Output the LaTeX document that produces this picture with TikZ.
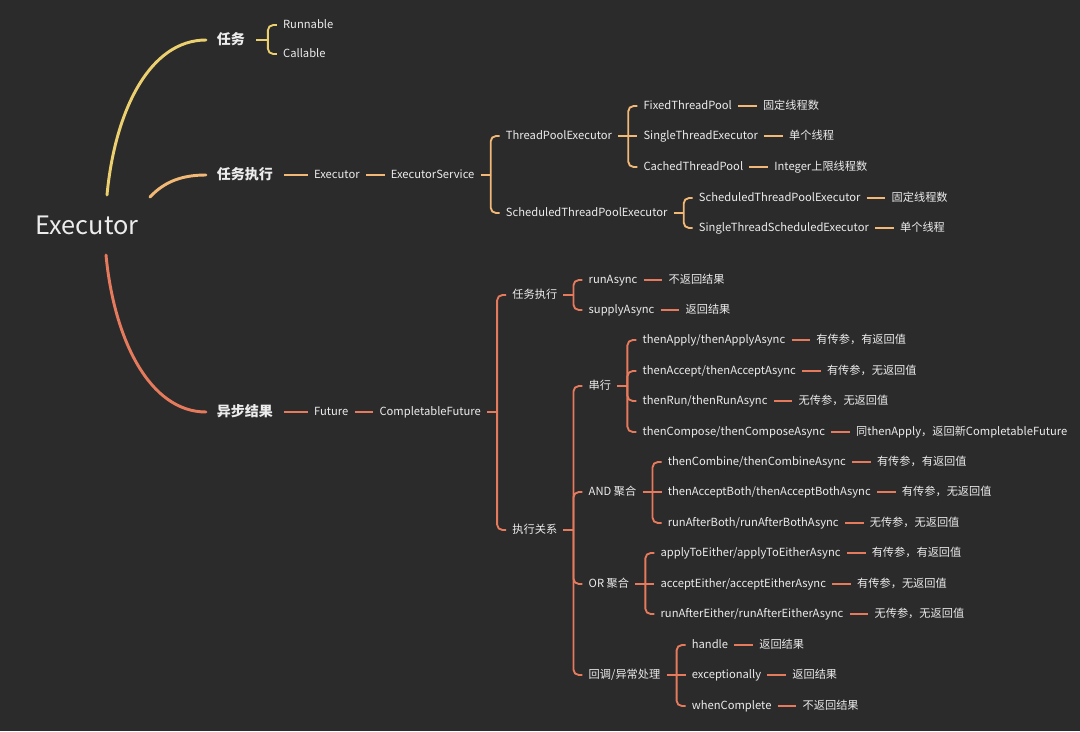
\documentclass[tikz,border=0pt]{standalone}
\usepackage{fontspec}
\setmainfont{Noto Sans CJK SC}
\usepackage{tikz}
\usetikzlibrary{positioning, calc}

\definecolor{bgdark}{RGB}{43,43,43}
\definecolor{txtlight}{RGB}{236,236,236}
\definecolor{mapyellow}{RGB}{236,208,112}
\definecolor{maporange}{RGB}{241,184,118}
\definecolor{mapcoral}{RGB}{229,122,92}

\begin{document}
\begin{tikzpicture}[x=0.75pt, y=-0.75pt, node distance=14pt,
    every node/.style={text=txtlight, inner ysep=0pt, inner xsep=4.5pt, text height=7.5pt, text depth=1.9pt, font=\fontsize{8.4}{10}\selectfont},
    topic/.style={font=\fontsize{10.5}{12}\selectfont\bfseries, inner xsep=8pt, text height=9pt, text depth=2.5pt},
    trunk/.style={line width=2.2pt, line cap=round},
    twig/.style={line width=1.4pt, rounded corners=4pt}]
    \fill[bgdark, use as bounding box] (0,0) rectangle (1080,731);

    % root
    \node[font=\fontsize{19}{22}\selectfont, text height=12.5pt, text depth=0pt] (exec) at (87,226) {Executor};
    \coordinate (execN) at ($(exec.center)+(20,-31)$);
    \coordinate (execNE) at ($(exec.center)+(63,-29)$);
    \coordinate (execS) at ($(exec.center)+(19,29)$);

    % 任务
    \node[topic, anchor=west] (task) at (206,40) {任务};
    \coordinate[right=9pt of task] (taskB);
    \node[anchor=west] (runnable) at ($(taskB)+(9,-15)$) {Runnable};
    \node[anchor=west] (callable) at ($(taskB)+(9,14)$) {Callable};

    \draw[trunk, mapyellow] (execN) .. controls (115,110) and (150,40) .. (task.west);
    \draw[twig, mapyellow] (task) -- (taskB);
    \draw[twig, mapyellow] (taskB) |- (runnable);
    \draw[twig, mapyellow] (taskB) |- (callable);

    % 任务执行
    \node[topic, anchor=west] (run) at (206,175) {任务执行};
    \node[right=18pt of run] (executor) {Executor};
    \node[right=of executor] (service) {ExecutorService};
    \coordinate[right=7.5pt of service] (serviceB);
    \node[anchor=west] (tpe) at ($(serviceB)+(9,-39)$) {ThreadPoolExecutor};
    \node[anchor=west] (stpe) at ($(serviceB)+(9,38)$) {ScheduledThreadPoolExecutor};

    \coordinate[right=7.5pt of tpe] (tpeB);
    \node[anchor=west] (fixed) at ($(tpeB)+(9,-30)$) {FixedThreadPool};
    \node[anchor=west] (single) at ($(tpeB)+(9,0)$) {SingleThreadExecutor};
    \node[anchor=west] (cached) at ($(tpeB)+(9,31)$) {CachedThreadPool};
    \node[right=of fixed] (fixedN) {固定线程数};
    \node[right=of single] (singleN) {单个线程};
    \node[right=of cached] (cachedN) {Integer上限线程数};

    \coordinate[right=7.5pt of stpe] (stpeB);
    \node[anchor=west] (sched) at ($(stpeB)+(9,-15)$) {ScheduledThreadPoolExecutor};
    \node[anchor=west] (singleSched) at ($(stpeB)+(9,15)$) {SingleThreadScheduledExecutor};
    \node[right=of sched] (schedN) {固定线程数};
    \node[right=of singleSched] (singleSchedN) {单个线程};

    \draw[trunk, maporange] (execNE) .. controls (165,181) and (183,175) .. (run.west);
    \draw[twig, maporange] (run) -- (executor);
    \draw[twig, maporange] (executor) -- (service);
    \draw[twig, maporange] (service) -- (serviceB);
    \draw[twig, maporange] (serviceB) |- (tpe);
    \draw[twig, maporange] (serviceB) |- (stpe);
    \draw[twig, maporange] (tpe) -- (tpeB);
    \draw[twig, maporange] (tpeB) |- (fixed);
    \draw[twig, maporange] (tpeB) -- (single);
    \draw[twig, maporange] (tpeB) |- (cached);
    \draw[twig, maporange] (fixed) -- (fixedN);
    \draw[twig, maporange] (single) -- (singleN);
    \draw[twig, maporange] (cached) -- (cachedN);
    \draw[twig, maporange] (stpe) -- (stpeB);
    \draw[twig, maporange] (stpeB) |- (sched);
    \draw[twig, maporange] (stpeB) |- (singleSched);
    \draw[twig, maporange] (sched) -- (schedN);
    \draw[twig, maporange] (singleSched) -- (singleSchedN);

    % 异步结果
    \node[topic, anchor=west] (async) at (206,412) {异步结果};
    \node[right=18pt of async] (future) {Future};
    \node[right=of future] (cf) {CompletableFuture};
    \coordinate[right=7.5pt of cf] (cfB);
    \node[anchor=west] (submit) at ($(cfB)+(9,-117)$) {任务执行};
    \node[anchor=west] (relation) at ($(cfB)+(9,118)$) {执行关系};

    \coordinate[right=7.5pt of submit] (submitB);
    \node[anchor=west] (runAsync) at ($(submitB)+(9,-15)$) {runAsync};
    \node[anchor=west] (supplyAsync) at ($(submitB)+(9,15)$) {supplyAsync};
    \node[right=of runAsync] (runAsyncN) {不返回结果};
    \node[right=of supplyAsync] (supplyAsyncN) {返回结果};

    \coordinate[right=7.5pt of relation] (relationB);
    \node[anchor=west] (serial) at ($(relationB)+(9,-144)$) {串行};
    \node[anchor=west] (andJoin) at ($(relationB)+(9,-38)$) {AND 聚合};
    \node[anchor=west] (orJoin) at ($(relationB)+(9,54)$) {OR 聚合};
    \node[anchor=west] (callback) at ($(relationB)+(9,145)$) {回调/异常处理};

    \coordinate[right=7.5pt of serial] (serialB);
    \node[anchor=west] (apply) at ($(serialB)+(9,-46)$) {thenApply/thenApplyAsync};
    \node[anchor=west] (accept) at ($(serialB)+(9,-15)$) {thenAccept/thenAcceptAsync};
    \node[anchor=west] (thenRun) at ($(serialB)+(9,15)$) {thenRun/thenRunAsync};
    \node[anchor=west] (compose) at ($(serialB)+(9,46)$) {thenCompose/thenComposeAsync};
    \node[right=of apply] (applyN) {有传参，有返回值};
    \node[right=of accept] (acceptN) {有传参，无返回值};
    \node[right=of thenRun] (thenRunN) {无传参，无返回值};
    \node[right=of compose] (composeN) {同thenApply，返回新CompletableFuture};

    \coordinate[right=7.5pt of andJoin] (andB);
    \node[anchor=west] (combine) at ($(andB)+(9,-30)$) {thenCombine/thenCombineAsync};
    \node[anchor=west] (acceptBoth) at ($(andB)+(9,0)$) {thenAcceptBoth/thenAcceptBothAsync};
    \node[anchor=west] (afterBoth) at ($(andB)+(9,31)$) {runAfterBoth/runAfterBothAsync};
    \node[right=of combine] (combineN) {有传参，有返回值};
    \node[right=of acceptBoth] (acceptBothN) {有传参，无返回值};
    \node[right=of afterBoth] (afterBothN) {无传参，无返回值};

    \coordinate[right=7.5pt of orJoin] (orB);
    \node[anchor=west] (applyEither) at ($(orB)+(9,-31)$) {applyToEither/applyToEitherAsync};
    \node[anchor=west] (acceptEither) at ($(orB)+(9,0)$) {acceptEither/acceptEitherAsync};
    \node[anchor=west] (afterEither) at ($(orB)+(9,30)$) {runAfterEither/runAfterEitherAsync};
    \node[right=of applyEither] (applyEitherN) {有传参，有返回值};
    \node[right=of acceptEither] (acceptEitherN) {有传参，无返回值};
    \node[right=of afterEither] (afterEitherN) {无传参，无返回值};

    \coordinate[right=7.5pt of callback] (callbackB);
    \node[anchor=west] (handle) at ($(callbackB)+(9,-30)$) {handle};
    \node[anchor=west] (except) at ($(callbackB)+(9,0)$) {exceptionally};
    \node[anchor=west] (whenDone) at ($(callbackB)+(9,31)$) {whenComplete};
    \node[right=of handle] (handleN) {返回结果};
    \node[right=of except] (exceptN) {返回结果};
    \node[right=of whenDone] (whenDoneN) {不返回结果};

    \draw[trunk, mapcoral] (execS) .. controls (114,340) and (150,412) .. (async.west);
    \draw[twig, mapcoral] (async) -- (future);
    \draw[twig, mapcoral] (future) -- (cf);
    \draw[twig, mapcoral] (cf) -- (cfB);
    \draw[twig, mapcoral] (cfB) |- (submit);
    \draw[twig, mapcoral] (cfB) |- (relation);
    \draw[twig, mapcoral] (submit) -- (submitB);
    \draw[twig, mapcoral] (submitB) |- (runAsync);
    \draw[twig, mapcoral] (submitB) |- (supplyAsync);
    \draw[twig, mapcoral] (runAsync) -- (runAsyncN);
    \draw[twig, mapcoral] (supplyAsync) -- (supplyAsyncN);
    \draw[twig, mapcoral] (relation) -- (relationB);
    \draw[twig, mapcoral] (relationB) |- (serial);
    \draw[twig, mapcoral] (relationB) |- (andJoin);
    \draw[twig, mapcoral] (relationB) |- (orJoin);
    \draw[twig, mapcoral] (relationB) |- (callback);
    \draw[twig, mapcoral] (serial) -- (serialB);
    \draw[twig, mapcoral] (serialB) |- (apply);
    \draw[twig, mapcoral] (serialB) |- (accept);
    \draw[twig, mapcoral] (serialB) |- (thenRun);
    \draw[twig, mapcoral] (serialB) |- (compose);
    \draw[twig, mapcoral] (apply) -- (applyN);
    \draw[twig, mapcoral] (accept) -- (acceptN);
    \draw[twig, mapcoral] (thenRun) -- (thenRunN);
    \draw[twig, mapcoral] (compose) -- (composeN);
    \draw[twig, mapcoral] (andJoin) -- (andB);
    \draw[twig, mapcoral] (andB) |- (combine);
    \draw[twig, mapcoral] (andB) -- (acceptBoth);
    \draw[twig, mapcoral] (andB) |- (afterBoth);
    \draw[twig, mapcoral] (combine) -- (combineN);
    \draw[twig, mapcoral] (acceptBoth) -- (acceptBothN);
    \draw[twig, mapcoral] (afterBoth) -- (afterBothN);
    \draw[twig, mapcoral] (orJoin) -- (orB);
    \draw[twig, mapcoral] (orB) |- (applyEither);
    \draw[twig, mapcoral] (orB) -- (acceptEither);
    \draw[twig, mapcoral] (orB) |- (afterEither);
    \draw[twig, mapcoral] (applyEither) -- (applyEitherN);
    \draw[twig, mapcoral] (acceptEither) -- (acceptEitherN);
    \draw[twig, mapcoral] (afterEither) -- (afterEitherN);
    \draw[twig, mapcoral] (callback) -- (callbackB);
    \draw[twig, mapcoral] (callbackB) |- (handle);
    \draw[twig, mapcoral] (callbackB) -- (except);
    \draw[twig, mapcoral] (callbackB) |- (whenDone);
    \draw[twig, mapcoral] (handle) -- (handleN);
    \draw[twig, mapcoral] (except) -- (exceptN);
    \draw[twig, mapcoral] (whenDone) -- (whenDoneN);
\end{tikzpicture}
\end{document}
